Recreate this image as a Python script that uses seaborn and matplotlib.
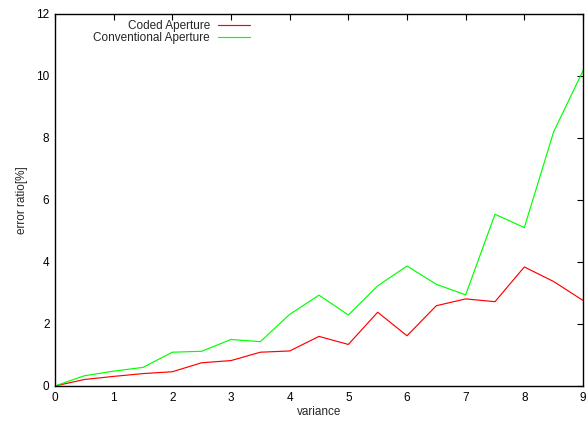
import matplotlib
matplotlib.use("Agg")
import matplotlib.pyplot as plt
import seaborn as sns
import pandas as pd

variance = [0, 0.5, 1, 1.5, 2, 2.5, 3, 3.5, 4, 4.5, 5, 5.5, 6, 6.5, 7, 7.5, 8, 8.5, 9]
coded = [0, 0.21, 0.31, 0.40, 0.46, 0.75, 0.82, 1.09, 1.13, 1.60, 1.34, 2.38, 1.62, 2.59, 2.81, 2.72, 3.84, 3.37, 2.76]
conventional = [0, 0.33, 0.48, 0.60, 1.09, 1.12, 1.50, 1.43, 2.31, 2.93, 2.29, 3.23, 3.87, 3.28, 2.94, 5.54, 5.11, 8.2, 10.17]
series_names = ["Coded Aperture", "Conventional Aperture"]

df = pd.concat([
    pd.DataFrame({"variance": variance, "error": coded, "series": series_names[0]}),
    pd.DataFrame({"variance": variance, "error": conventional, "series": series_names[1]}),
])

sns.set_style("white")
plt.rcParams['font.family'] = ['Liberation Sans', 'DejaVu Sans']

fig = plt.figure(figsize=(5.87, 4.21), dpi=100)
ax = fig.add_axes([55/587, 1 - 386/421, (583-55)/587, (386-14)/421])

sns.lineplot(data=df, x="variance", y="error", hue="series",
             palette={series_names[0]: "#ff0000", series_names[1]: "#00ff00"},
             linewidth=0.85, ax=ax, legend=True)

ax.set_xlim(0, 9)
ax.set_ylim(0, 12)
ax.set_xticks(range(0, 10))
ax.set_yticks(range(0, 13, 2))
ax.tick_params(direction="in", top=True, right=True, length=4, width=0.8,
               labelsize=8.5, colors="black", pad=4)
for s in ax.spines.values():
    s.set_visible(True)
    s.set_color("black")
    s.set_linewidth(1.0)
ax.set_xlabel("variance", fontsize=8.5, labelpad=2)
ax.set_ylabel("error ratio[%]", fontsize=8.5, labelpad=6)

leg = ax.legend(loc="upper right", bbox_to_anchor=((250-55)/528, (386-20)/372),
                bbox_transform=ax.transAxes, frameon=False,
                markerfirst=False, fontsize=8.5, handlelength=2.7,
                handletextpad=0.7, borderaxespad=0.0, labelspacing=0.0,
                borderpad=0.0)
leg._legend_box.align = "right"

fig.savefig("out.png", dpi=100)
